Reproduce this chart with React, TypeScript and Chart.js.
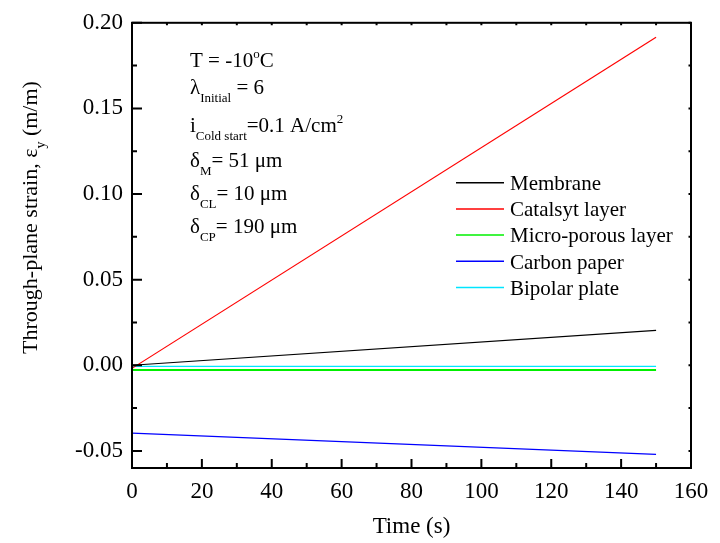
import React, { useEffect, useRef } from "react";
import { Chart, registerables } from "chart.js";

Chart.register(...registerables);

// ---- data ----
const timeS = [0, 150];
const membrane = [0, 0.0204];
const catalystLayer = [-0.0018, 0.1916];
const microPorousLayer = [-0.0028, -0.0028];
const carbonPaper = [-0.0396, -0.0521];
const bipolarPlate = [-0.0007, -0.0007];

const seriesNames = ["Membrane", "Catalsyt layer", "Micro-porous layer", "Carbon paper", "Bipolar plate"];
const seriesValues = [membrane, catalystLayer, microPorousLayer, carbonPaper, bipolarPlate];
const seriesColors = ["#000000", "#ff0000", "#00f000", "#0000ff", "#00e5ff"];
const seriesWidths = [1.2, 1.2, 2, 1.2, 1.2];

const xTicks = [0, 20, 40, 60, 80, 100, 120, 140, 160];
const yTicks = [-0.05, 0, 0.05, 0.1, 0.15, 0.2];
const xMin = 0, xMax = 160, yMin = -0.06, yMax = 0.2;

type Seg = { t: string; k?: "sub" | "sup" };
const xTitle = "Time (s)";
const yTitle: Seg[] = [{ t: "Through-plane strain, ε" }, { t: "y", k: "sub" }, { t: " (m/m)" }];
const annotationLines: Seg[][] = [
  [{ t: "T = -10" }, { t: "o", k: "sup" }, { t: "C" }],
  [{ t: "λ" }, { t: "Initial", k: "sub" }, { t: " = 6" }],
  [{ t: "i" }, { t: "Cold start", k: "sub" }, { t: "=0.1 A/cm" }, { t: "2", k: "sup" }],
  [{ t: "δ" }, { t: "M", k: "sub" }, { t: "= 51 μm" }],
  [{ t: "δ" }, { t: "CL", k: "sub" }, { t: "= 10 μm" }],
  [{ t: "δ" }, { t: "CP", k: "sub" }, { t: "= 190 μm" }],
];

const FONT = '"Liberation Serif", "Times New Roman", serif';
const SIZE = 21;
const SMALL = 13;
const TICK_SIZE = 23;
const TITLE_SIZE = 23;

function richWidth(ctx: CanvasRenderingContext2D, segs: Seg[], size: number, small: number) {
  let w = 0;
  for (const s of segs) {
    ctx.font = `${s.k ? small : size}px ${FONT}`;
    w += ctx.measureText(s.t).width;
  }
  return w;
}

function drawRich(ctx: CanvasRenderingContext2D, x: number, y: number, segs: Seg[], size = SIZE, small = SMALL) {
  let cx = x;
  for (const s of segs) {
    ctx.font = `${s.k ? small : size}px ${FONT}`;
    const dy = s.k === "sub" ? size * 0.38 : s.k === "sup" ? -size * 0.4 : 0;
    ctx.fillText(s.t, cx, y + dy);
    cx += ctx.measureText(s.t).width;
  }
  return cx;
}

const decorPlugin = {
  id: "decor",
  afterDatasetsDraw(chart: any) {
    const ctx: CanvasRenderingContext2D = chart.ctx;
    const { left, right, top, bottom } = chart.chartArea;
    const xs = chart.scales.x;
    const ys = chart.scales.y;
    ctx.save();
    ctx.strokeStyle = "#000";
    ctx.fillStyle = "#000";
    ctx.lineWidth = 2;
    ctx.lineCap = "butt";
    // frame
    ctx.strokeRect(left, top, right - left, bottom - top);
    // ticks
    const xMinor: number[] = [];
    for (let i = 0; i < xTicks.length - 1; i++) xMinor.push((xTicks[i] + xTicks[i + 1]) / 2);
    const yMinor: number[] = [];
    for (let i = 0; i < yTicks.length - 1; i++) yMinor.push((yTicks[i] + yTicks[i + 1]) / 2);
    ctx.beginPath();
    for (const v of xTicks) {
      const px = xs.getPixelForValue(v);
      ctx.moveTo(px, bottom); ctx.lineTo(px, bottom - 9);
      ctx.moveTo(px, top); ctx.lineTo(px, top + 2.5);
    }
    for (const v of xMinor) {
      const px = xs.getPixelForValue(v);
      ctx.moveTo(px, bottom); ctx.lineTo(px, bottom - 5);
      ctx.moveTo(px, top); ctx.lineTo(px, top + 2.5);
    }
    for (const v of yTicks) {
      const py = ys.getPixelForValue(v);
      ctx.moveTo(left, py); ctx.lineTo(left + 10, py);
      ctx.moveTo(right, py); ctx.lineTo(right - 2.5, py);
    }
    for (const v of yMinor) {
      const py = ys.getPixelForValue(v);
      ctx.moveTo(left, py); ctx.lineTo(left + 5, py);
      ctx.moveTo(right, py); ctx.lineTo(right - 2.5, py);
    }
    ctx.stroke();

    // axis titles
    ctx.textBaseline = "alphabetic";
    ctx.textAlign = "center";
    ctx.font = `${TITLE_SIZE}px ${FONT}`;
    ctx.fillText(xTitle, (left + right) / 2, 533);
    ctx.textAlign = "left";
    ctx.save();
    ctx.translate(37, 217.5);
    ctx.rotate(-Math.PI / 2);
    const w = richWidth(ctx, yTitle, 22, 14);
    drawRich(ctx, -w / 2, 0, yTitle, 22, 14);
    ctx.restore();

    // annotation
    const baselines = [66.7, 94, 131.7, 166.7, 200, 233.3];
    annotationLines.forEach((segs, i) => drawRich(ctx, 190, baselines[i], segs));

    // legend
    seriesNames.forEach((name, i) => {
      const ly = 182.7 + i * 26.2;
      ctx.strokeStyle = seriesColors[i];
      ctx.lineWidth = 1.5;
      ctx.beginPath();
      ctx.moveTo(456, ly);
      ctx.lineTo(504, ly);
      ctx.stroke();
      ctx.font = `${SIZE}px ${FONT}`;
      ctx.fillStyle = "#000";
      ctx.fillText(name, 510, ly + 7.3);
    });
    ctx.restore();
  },
};

export default function App() {
  const ref = useRef<HTMLCanvasElement>(null);
  useEffect(() => {
    document.body.style.margin = "0";
    const canvas = ref.current!;
    const chart = new Chart(canvas, {
      type: "line",
      data: {
        datasets: seriesNames.map((name, i) => ({
          label: name,
          data: timeS.map((t, j) => ({ x: t, y: seriesValues[i][j] })),
          borderColor: seriesColors[i],
          backgroundColor: seriesColors[i],
          borderWidth: seriesWidths[i],
          pointRadius: 0,
          fill: false,
          tension: 0,
        })),
      },
      options: {
        animation: false,
        responsive: false,
        devicePixelRatio: 1,
        layout: { padding: { top: 18, right: 29, left: 0, bottom: 0 } },
        plugins: { legend: { display: false }, tooltip: { enabled: false } },
        scales: {
          x: {
            type: "linear",
            min: xMin,
            max: xMax,
            afterBuildTicks: (s: any) => { s.ticks = xTicks.map((v) => ({ value: v })); },
            afterFit: (s: any) => { s.height = 75; },
            grid: { display: false, drawTicks: false },
            border: { display: false },
            ticks: {
              padding: 10,
              color: "#000",
              maxRotation: 0,
              autoSkip: false,
              font: { family: FONT, size: TICK_SIZE },
              callback: (v: any) => String(v),
            },
          },
          y: {
            type: "linear",
            min: yMin,
            max: yMax,
            afterBuildTicks: (s: any) => { s.ticks = yTicks.map((v) => ({ value: v })); },
            afterFit: (s: any) => { s.width = 132; },
            grid: { display: false, drawTicks: false },
            border: { display: false },
            ticks: {
              padding: 9,
              color: "#000",
              autoSkip: false,
              font: { family: FONT, size: TICK_SIZE },
              callback: (v: any) => Number(v).toFixed(2),
            },
          },
        },
      },
      plugins: [decorPlugin],
    });
    return () => chart.destroy();
  }, []);
  return (
    <div style={{ width: 720, height: 543, background: "#fff" }}>
      <canvas ref={ref} width={720} height={543} style={{ display: "block" }} />
    </div>
  );
}
